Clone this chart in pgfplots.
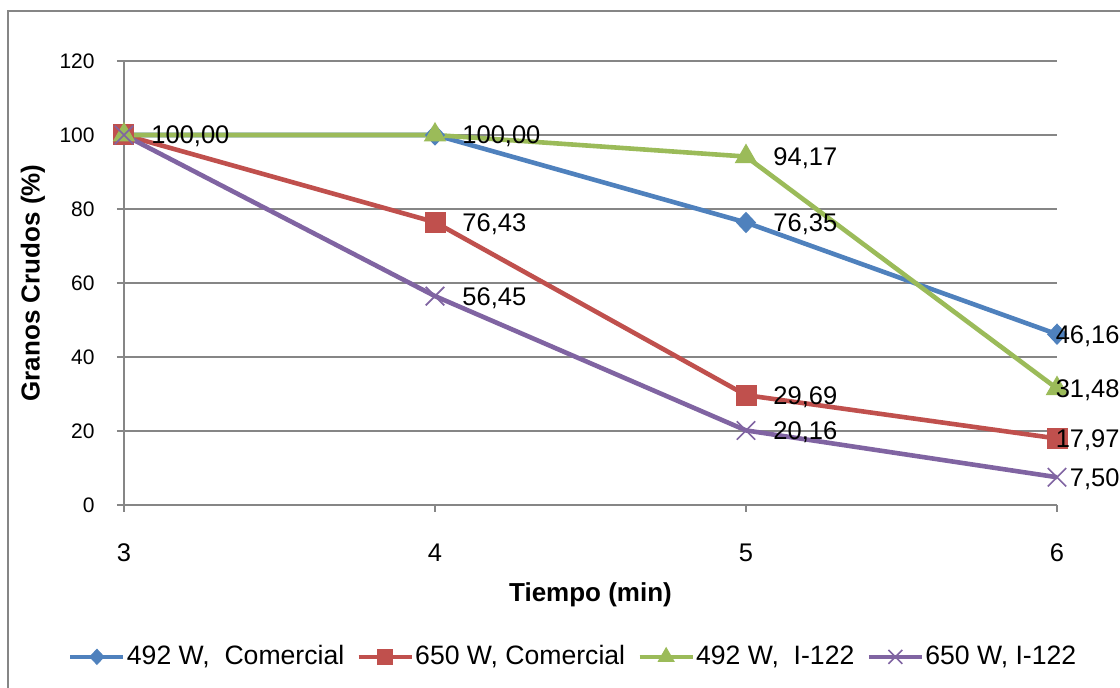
\documentclass[border=0pt]{standalone}
\usepackage{fontspec}
\setmainfont{Liberation Sans}
\usepackage{pgfplots}
\pgfplotsset{compat=1.18}
\definecolor{cblue}{HTML}{4F81BD}
\definecolor{cred}{HTML}{C0504D}
\definecolor{cgreen}{HTML}{9BBB59}
\definecolor{cpurple}{HTML}{8064A2}
\definecolor{cgrid}{HTML}{868686}
\newcommand{\lblfont}{\fontsize{12.75}{15}\selectfont}
\newcommand{\legfont}{\fontsize{13.3}{16}\selectfont}
\newcommand{\axlfont}{\fontsize{13}{16}\selectfont}
\begin{document}
\begin{tikzpicture}
\useasboundingbox (-62pt,-91.5pt) rectangle (498pt,252.5pt);
\fill[white] (-62pt,-91.5pt) rectangle (498pt,252.5pt);
\begin{axis}[
  at={(0,0)}, anchor=south west,
  scale only axis, width=466.5pt, height=222pt,
  xmin=3, xmax=6, ymin=0, ymax=120,
  xtick={3,4,5,6}, ytick={0,20,...,120},
  axis x line=bottom, axis y line=left,
  axis line style={-, draw=cgrid, line width=0.75pt},
  ymajorgrids, grid style={draw=cgrid, line width=0.75pt},
  tick align=outside, major tick length=3.5pt,
  tick style={draw=cgrid, line width=0.75pt},
  /pgf/number format/assume math mode=true,
  xticklabel style={font=\fontsize{12.75}{15}\selectfont, anchor=base, inner sep=0pt, yshift=-25pt},
  yticklabel style={font=\fontsize{10.5}{12}\selectfont, anchor=east, inner sep=0pt, xshift=-11pt},
  xlabel={\bfseries Tiempo (min)},
  ylabel={\bfseries Granos Crudos (\%)},
  xlabel style={at={([yshift=-48.5pt]axis description cs:0.5,0)}, anchor=base, inner sep=0pt, font=\axlfont},
  ylabel style={at={([xshift=-45.5pt]axis description cs:0,0.5)}, anchor=center, inner sep=0pt, font=\axlfont},
  clip=false,
  legend columns=4,
  legend style={at={(0.481,-0.342)}, anchor=center, draw=none, fill=none, font=\legfont,
    /tikz/every even column/.append style={column sep=5.5pt}, inner sep=0pt, nodes={inner sep=0.6pt}},
  legend image code/.code={\draw[#1, every mark/.append style={scale=0.75}, mark repeat=2, mark phase=2] plot coordinates {(0pt,0pt) (13.25pt,0pt) (26.5pt,0pt)};},
]
\addplot[cblue, line width=2.3pt, mark=diamond*, mark size=5pt, mark options={solid, fill=cblue, draw=cblue, line width=0.5pt, xscale=1.25}]
  coordinates {(3,100) (4,100) (5,76.35) (6,46.16)};
\addlegendentry{492 W,\ \ Comercial}
\addplot[cred, line width=2.3pt, mark=square*, mark size=5pt, mark options={solid, fill=cred, draw=cred, line width=0.5pt}]
  coordinates {(3,100) (4,76.43) (5,29.69) (6,17.97)};
\addlegendentry{650 W, Comercial}
\addplot[cgreen, line width=2.3pt, mark=triangle*, mark size=6pt, mark options={solid, fill=cgreen, draw=cgreen, line width=0.5pt}]
  coordinates {(3,100) (4,100) (5,94.17) (6,31.48)};
\addlegendentry{492 W,\ \ I-122}
\addplot[cpurple, line width=2.3pt, mark=x, mark size=6.5pt, mark options={solid, draw=cpurple, line width=0.8pt}]
  coordinates {(3,100) (4,56.45) (5,20.16) (6,7.50)};
\addlegendentry{650 W, I-122}
% data labels
\addplot[draw=none, forget plot, point meta=y,
  nodes near coords={\pgfmathprintnumber[fixed,zerofill,precision=2,use comma]{\pgfplotspointmeta}},
  every node near coord/.append style={anchor=base west, inner sep=0pt, xshift=13.5pt, yshift=-4.5pt, font=\lblfont, text=black}]
  coordinates {(3,100) (4,100) (4,76.43) (4,56.45) (5,94.17) (5,76.35) (5,29.69) (5,20.16)};
\addplot[draw=none, forget plot, point meta=y,
  nodes near coords={\pgfmathprintnumber[fixed,zerofill,precision=2,use comma]{\pgfplotspointmeta}},
  every node near coord/.append style={anchor=base east, inner sep=0pt, xshift=31.5pt, yshift=-4.5pt, font=\lblfont, text=black}]
  coordinates {(6,46.16) (6,31.48) (6,17.97) (6,7.50)};
\end{axis}
\draw[cgrid, line width=1pt] (-58pt,-92pt) -- (-58pt,247pt) -- (499pt,247pt);
\end{tikzpicture}
\end{document}
